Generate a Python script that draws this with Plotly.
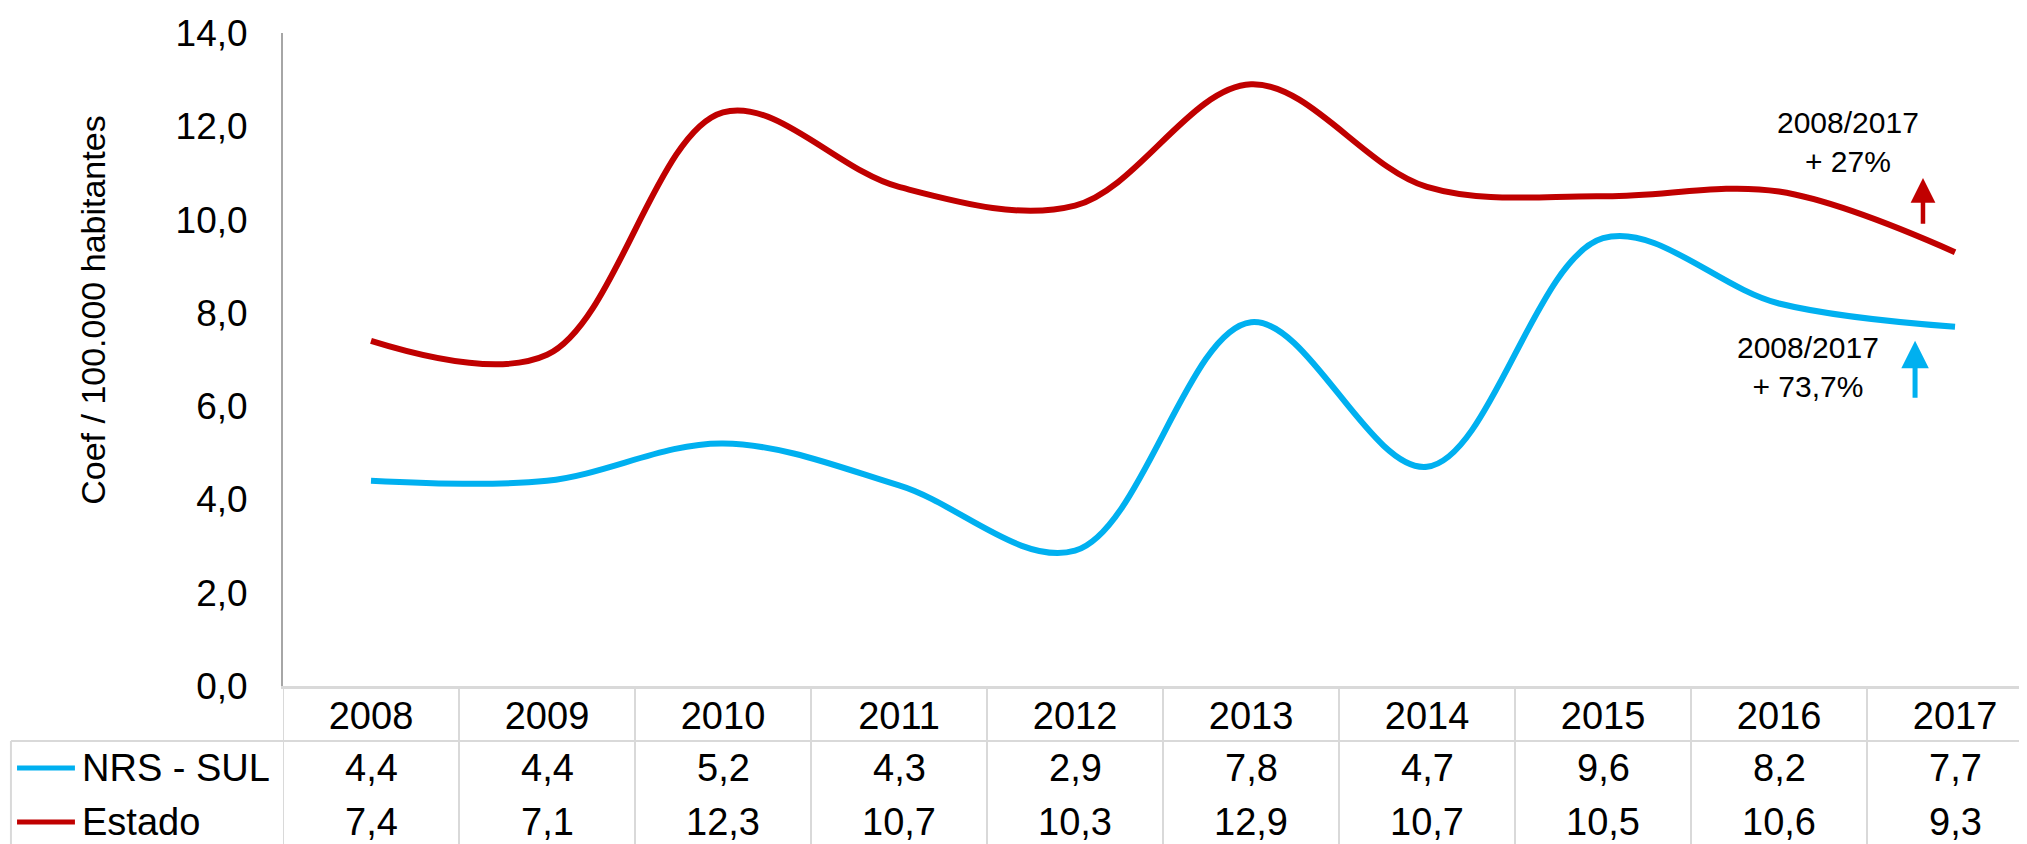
import plotly.graph_objects as go

# data
anos = ["2008", "2009", "2010", "2011", "2012", "2013", "2014", "2015", "2016", "2017"]
nrs_sul = [4.4, 4.4, 5.2, 4.3, 2.9, 7.8, 4.7, 9.6, 8.2, 7.7]
estado = [7.4, 7.1, 12.3, 10.7, 10.3, 12.9, 10.7, 10.5, 10.6, 9.3]
nota_estado = "2008/2017<br>+ 27%"
nota_nrs = "2008/2017<br>+ 73,7%"

azul = "#00b0f0"
vermelho = "#c00000"
fonte = "Liberation Sans, Arial, sans-serif"
grade = "#d9d9d9"

x = list(range(len(anos)))

fig = go.Figure()

fig.add_trace(go.Scatter(x=x, y=nrs_sul, mode="lines", name="NRS - SUL",
                         line=dict(color=azul, width=6, shape="spline", smoothing=1.0)))
fig.add_trace(go.Scatter(x=x, y=estado, mode="lines", name="Estado",
                         line=dict(color=vermelho, width=6, shape="spline", smoothing=1.0)))

# data table under the chart
annotations = []
linhas = [("NRS - SUL", nrs_sul, azul, -0.1256), ("Estado", estado, vermelho, -0.2083)]
shapes = []
for nome, valores, cor, yy in linhas:
    for i, v in enumerate(valores):
        annotations.append(dict(x=i, y=yy, xref="x", yref="paper", showarrow=False,
                                text=f"{v:.1f}".replace(".", ","),
                                font=dict(size=38, color="black", family=fonte),
                                xanchor="center", yanchor="middle"))
    annotations.append(dict(x=-0.1164, y=yy, xref="paper", yref="paper", showarrow=False,
                            text=nome, font=dict(size=38, color="black", family=fonte),
                            xanchor="left", yanchor="middle"))
    shapes.append(dict(type="line", xref="paper", yref="paper", x0=-0.1525, x1=-0.1193,
                       y0=yy, y1=yy, line=dict(color=cor, width=5)))

for i in range(len(anos) + 1):
    shapes.append(dict(type="line", xref="x", yref="paper", x0=i - 0.5, x1=i - 0.5,
                       y0=0, y1=-0.26, line=dict(color=grade, width=2)))
shapes.append(dict(type="line", xref="paper", yref="paper", x0=-0.156, x1=1,
                   y0=-0.0842, y1=-0.0842, line=dict(color=grade, width=2)))
shapes.append(dict(type="line", xref="paper", yref="paper", x0=-0.156, x1=-0.156,
                   y0=-0.0842, y1=-0.26, line=dict(color=grade, width=2)))

# y axis title
annotations.append(dict(x=-0.109, y=0.576, xref="paper", yref="paper", showarrow=False,
                        text="Coef / 100.000 habitantes", textangle=-90,
                        xanchor="center", yanchor="middle",
                        font=dict(size=34, color="black", family=fonte)))

# variation notes + arrows
annotations.append(dict(x=8.39, y=11.67, xref="x", yref="y", showarrow=False, text=nota_estado,
                        font=dict(size=30, color="black", family=fonte), align="center"))
annotations.append(dict(x=8.165, y=6.84, xref="x", yref="y", showarrow=False, text=nota_nrs,
                        font=dict(size=30, color="black", family=fonte), align="center"))
annotations.append(dict(x=8.818, y=10.89, ax=8.818, ay=9.88, xref="x", yref="y",
                        axref="x", ayref="y", text="", showarrow=True, arrowhead=2,
                        arrowsize=1.1, arrowwidth=4.5, arrowcolor=vermelho))
annotations.append(dict(x=8.773, y=7.40, ax=8.773, ay=6.15, xref="x", yref="y",
                        axref="x", ayref="y", text="", showarrow=True, arrowhead=2,
                        arrowsize=1.1, arrowwidth=5, arrowcolor=azul))

# page body has an 8px default margin, so the figure is 8px smaller each way
fig.update_layout(
    width=2019, height=836,
    margin=dict(l=275, r=0, t=25, b=158),
    plot_bgcolor="white", paper_bgcolor="white",
    showlegend=False,
    separators=",.",
    font=dict(family=fonte, color="black"),
    annotations=annotations,
    shapes=shapes,
    xaxis=dict(range=[-0.5, 9.409], tickvals=x, ticktext=anos, showgrid=False, zeroline=False,
               showline=True, linecolor=grade, linewidth=3, ticks="", automargin=False,
               ticklabelstandoff=-6,
               tickfont=dict(size=38, color="black", family=fonte)),
    yaxis=dict(range=[0, 14], dtick=2, tickformat=".1f", showgrid=False, zeroline=False,
               showline=True, linecolor="#a6a6a6", linewidth=2, ticks="", automargin=False,
               ticklabelstandoff=26,
               tickfont=dict(size=37, color="black", family=fonte)),
)

fig.write_html("out.html")
